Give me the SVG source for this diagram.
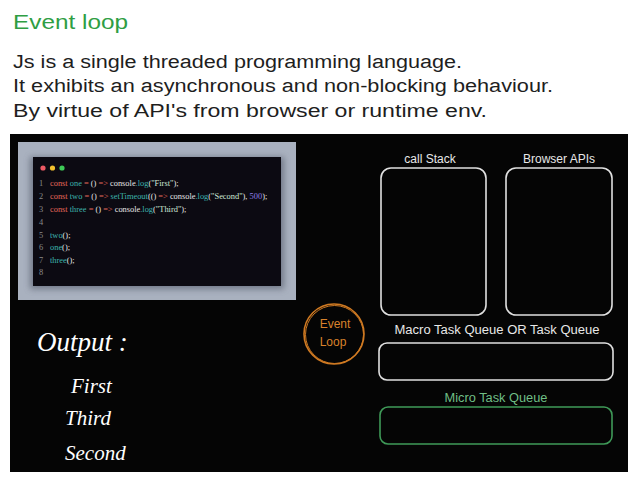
<svg xmlns="http://www.w3.org/2000/svg" width="637" height="481" viewBox="0 0 637 481">
<style>
.hd{font-family:"Liberation Sans",Arial,sans-serif;fill:#1e1e1e;font-size:18px}
.code{font-family:"Liberation Serif","Times New Roman",serif;font-size:8.4px}
.k{fill:#e2675a}.n{fill:#3db4ae}.w{fill:#e6e6e6}.s{fill:#cfe9d8}.p{fill:#8f7fe8}.ln{fill:#8a8a8a}
.lbl{font-family:"Liberation Sans",Arial,sans-serif;font-size:12px;fill:#e8e8e8}
.box{fill:none;stroke:#e0e0e0;stroke-width:1.6}
.out{font-family:"Liberation Serif","Times New Roman",serif;font-style:italic;fill:#ffffff}
</style>
<defs>
<filter id="blur" x="-10%" y="-10%" width="120%" height="120%"><feGaussianBlur stdDeviation="3"/></filter>
</defs>
<rect width="637" height="481" fill="#ffffff"/>
<g id="header">
<text x="13" y="29" font-family="Liberation Sans,Arial,sans-serif" font-size="20" fill="#2f9e44" textLength="115" lengthAdjust="spacingAndGlyphs">Event loop</text>
<text class="hd" x="13" y="68" textLength="449" lengthAdjust="spacingAndGlyphs">Js is a single threaded programming language.</text>
<text class="hd" x="13" y="92" textLength="540" lengthAdjust="spacingAndGlyphs">It exhibits an asynchronous and non-blocking behaviour.</text>
<text class="hd" x="13" y="117" textLength="474" lengthAdjust="spacingAndGlyphs">By virtue of API's from browser or runtime env.</text>
</g>
<rect id="canvas" x="10" y="134" width="618" height="338" fill="#050505"/>
<g id="code-panel">
<rect x="18" y="142" width="278" height="158" fill="#a9b1bf"/>
<rect x="30" y="157" width="254" height="132" fill="#5a6170" filter="url(#blur)" opacity="0.7"/>
<rect x="33" y="157" width="248" height="129" fill="#0c0a12"/>
<circle cx="43" cy="168" r="2.6" fill="#ed5a64"/>
<circle cx="52.5" cy="168" r="2.6" fill="#f2c12e"/>
<circle cx="62" cy="168" r="2.6" fill="#3ecb57"/>
<g class="code">
<text x="39" y="186" class="ln">1</text>
<text x="50" y="186"><tspan class="k">const </tspan><tspan class="n">one </tspan><tspan class="k">= </tspan><tspan class="w">() </tspan><tspan class="k">=&gt; </tspan><tspan class="w">console</tspan><tspan class="n">.log</tspan><tspan class="w">(</tspan><tspan class="s">"First"</tspan><tspan class="w">);</tspan></text>
<text x="39" y="199" class="ln">2</text>
<text x="50" y="199"><tspan class="k">const </tspan><tspan class="n">two </tspan><tspan class="k">= </tspan><tspan class="w">() </tspan><tspan class="k">=&gt; </tspan><tspan class="n">setTimeout</tspan><tspan class="w">(() </tspan><tspan class="k">=&gt; </tspan><tspan class="w">console</tspan><tspan class="n">.log</tspan><tspan class="w">(</tspan><tspan class="s">"Second"</tspan><tspan class="w">), </tspan><tspan class="p">500</tspan><tspan class="w">);</tspan></text>
<text x="39" y="212" class="ln">3</text>
<text x="50" y="212"><tspan class="k">const </tspan><tspan class="n">three </tspan><tspan class="k">= </tspan><tspan class="w">() </tspan><tspan class="k">=&gt; </tspan><tspan class="w">console</tspan><tspan class="n">.log</tspan><tspan class="w">(</tspan><tspan class="s">"Third"</tspan><tspan class="w">);</tspan></text>
<text x="39" y="225" class="ln">4</text>
<text x="39" y="238" class="ln">5</text>
<text x="50" y="238"><tspan class="n">two</tspan><tspan class="w">();</tspan></text>
<text x="39" y="250" class="ln">6</text>
<text x="50" y="250"><tspan class="n">one</tspan><tspan class="w">();</tspan></text>
<text x="39" y="263" class="ln">7</text>
<text x="50" y="263"><tspan class="n">three</tspan><tspan class="w">();</tspan></text>
<text x="39" y="275" class="ln">8</text>
</g>
</g>
<g id="call-stack">
<text class="lbl" x="430" y="163" text-anchor="middle">call Stack</text>
<rect class="box" x="381" y="168" width="105" height="147" rx="10"/>
</g>
<g id="browser-apis">
<text class="lbl" x="559" y="163" text-anchor="middle">Browser APIs</text>
<rect class="box" x="506" y="168" width="106" height="147" rx="10"/>
</g>
<g id="macro-queue">
<text class="lbl" x="497" y="334" text-anchor="middle" textLength="205" lengthAdjust="spacingAndGlyphs">Macro Task Queue OR Task Queue</text>
<rect class="box" x="379" y="343" width="234" height="37" rx="8"/>
</g>
<g id="micro-queue">
<text class="lbl" x="496" y="402" text-anchor="middle" style="fill:#6fbf85" textLength="103" lengthAdjust="spacingAndGlyphs">Micro Task Queue</text>
<rect x="380" y="407" width="232" height="37" rx="8" fill="none" stroke="#3f9a58" stroke-width="1.6"/>
</g>
<g id="event-loop">
<circle cx="334" cy="334" r="30" fill="none" stroke="#d07a22" stroke-width="1.6"/>
<circle cx="334.5" cy="334.5" r="29" fill="none" stroke="#d07a22" stroke-width="1"/>
<text x="335" y="328" text-anchor="middle" font-family="Liberation Sans,Arial,sans-serif" font-size="12" fill="#d9822b">Event</text>
<text x="333" y="346" text-anchor="middle" font-family="Liberation Sans,Arial,sans-serif" font-size="12" fill="#d9822b">Loop</text>
</g>
<g id="output">
<text class="out" x="37" y="351" font-size="27">Output :</text>
<text class="out" x="71" y="393" font-size="21">First</text>
<text class="out" x="65" y="425" font-size="21">Third</text>
<text class="out" x="65" y="460" font-size="21">Second</text>
</g>
</svg>
